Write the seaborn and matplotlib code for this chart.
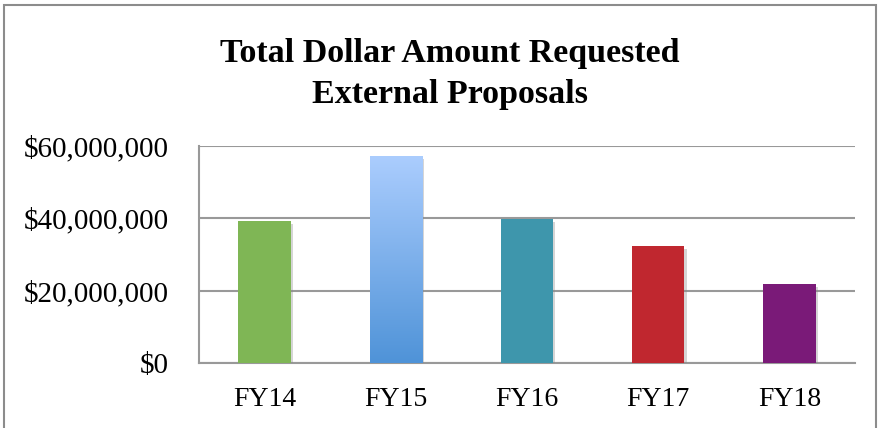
import numpy as np
import pandas as pd
import seaborn as sns
import matplotlib.pyplot as plt
import matplotlib.patheffects as pe
from matplotlib.patches import Rectangle
from matplotlib.colors import LinearSegmentedColormap
from matplotlib.ticker import FuncFormatter

# data
years = ['FY14', 'FY15', 'FY16', 'FY17', 'FY18']
amounts = [39200000, 57200000, 39800000, 32300000, 21800000]
bar_colors = ['#7FB655', '#78AAEA', '#3E96AC', '#C0272F', '#7A1A78']
title = 'Total Dollar Amount Requested\nExternal Proposals'

df = pd.DataFrame({'year': years, 'amount': amounts})

sns.set_theme(style='white')
plt.rcParams['font.family'] = ['Liberation Serif', 'DejaVu Serif']

fig = plt.figure(figsize=(8.8, 4.28), dpi=100)
ax = fig.add_axes([0.2261, 0.1519, 0.7455, 0.507])

sns.barplot(data=df, x='year', y='amount', hue='year', palette=bar_colors,
            width=0.4, legend=False, ax=ax, zorder=3, saturation=1, linewidth=0)

# subtle drop shadow like the original
for p in ax.patches:
    p.set_edgecolor('none')
    p.set_path_effects([pe.SimplePatchShadow(offset=(1.5, -2), shadow_rgbFace='#888888', alpha=0.35),
                        pe.Normal()])

# gradient fill on the FY15 bar
grad = LinearSegmentedColormap.from_list('blue_grad', ['#4F93D8', '#ABCDFE'])
b = ax.patches[1]
x0, y0 = b.get_x(), b.get_y()
img = ax.imshow(np.linspace(0, 1, 256).reshape(-1, 1), cmap=grad, origin='lower',
                extent=[x0, x0 + b.get_width(), y0, y0 + b.get_height()],
                aspect='auto', zorder=4)
img.set_clip_path(b)

ax.set_xlim(-0.5, 4.5)
ax.set_ylim(0, 60000000)
ax.set_yticks([0, 20000000, 40000000, 60000000])
ax.yaxis.set_major_formatter(FuncFormatter(lambda v, pos: '${:,.0f}'.format(v)))
ax.set_xlabel('')
ax.set_ylabel('')

ax.grid(axis='y', color='#999999', linewidth=1.5, zorder=0)
ax.grid(axis='x', visible=False)
ax.set_axisbelow(True)
for s in ['top', 'right']:
    ax.spines[s].set_visible(False)
ax.spines['left'].set_color('#999999')
ax.spines['left'].set_linewidth(1.5)
ax.spines['bottom'].set_color('#999999')
ax.spines['bottom'].set_linewidth(1.5)

ax.tick_params(axis='y', length=0, pad=22, labelsize=21, labelcolor='black')
ax.tick_params(axis='x', length=0, pad=17, labelsize=20, labelcolor='black')

fig.text(0.511, 0.827, title, ha='center', va='center', fontsize=24.5,
         fontweight='bold', linespacing=1.4, color='black')

# outer chart frame
fig.patches.append(Rectangle((4 / 880, -0.1), 872 / 880, 1.1 - 5 / 428,
                             transform=fig.transFigure, fill=False,
                             edgecolor='#8c8c8c', linewidth=1.5))

fig.savefig('out.png', dpi=100)
